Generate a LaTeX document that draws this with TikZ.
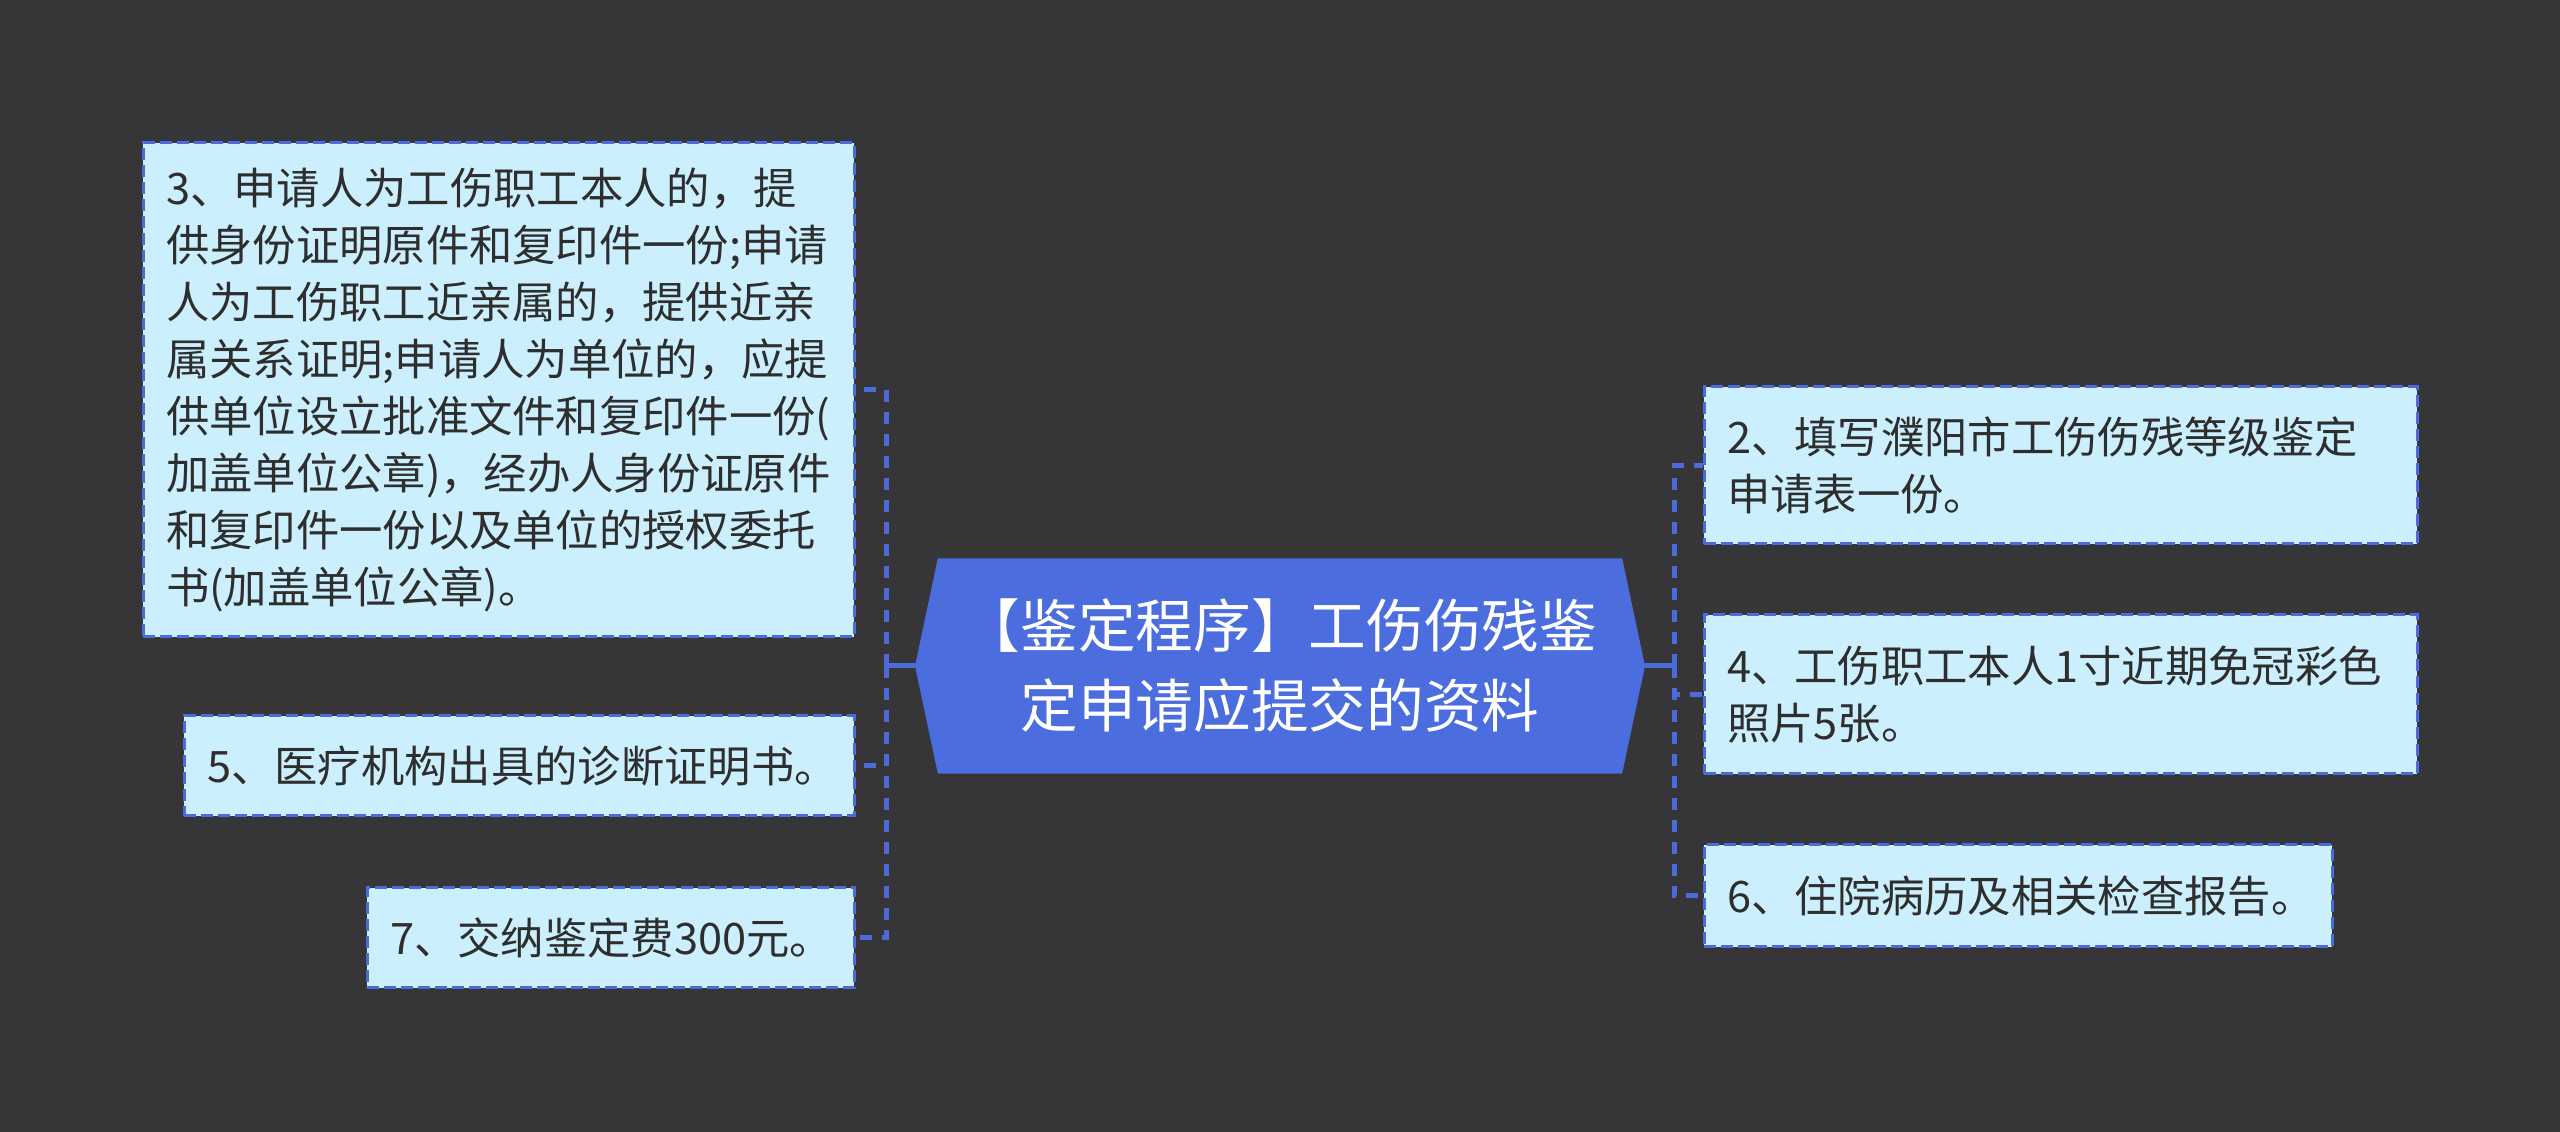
\documentclass[tikz,border=0pt]{standalone}
\usepackage{fontspec}
\setmainfont{Noto Sans CJK SC}
\usetikzlibrary{backgrounds}
\definecolor{bgc}{HTML}{363537}
\definecolor{boxfill}{HTML}{CCEFFD}
\definecolor{boxline}{HTML}{4A6BD9}
\definecolor{cfill}{HTML}{4B6DDE}
\definecolor{txtc}{HTML}{2E2E2E}
\tikzset{
  leaf/.style={draw=boxline, fill=boxfill, line width=0.9pt,
    dash pattern=on 3.6pt off 1.5pt, text=txtc,
    font=\fontsize{13pt}{17.1pt}\selectfont, align=left,
    inner xsep=6.9pt, inner ysep=0pt},
  root/.style={text=white, font=\fontsize{17.3pt}{24pt}\selectfont,
    align=center, minimum width=204.9pt, minimum height=64.2pt, inner sep=0pt},
  trunk/.style={draw=boxline, line width=1.5pt},
  branch/.style={draw=boxline, line width=1.5pt, dash pattern=on 3.6pt off 3pt}
}
\begin{document}
\begin{tikzpicture}[x=0.3pt,y=-0.3pt]
\useasboundingbox (0,0) rectangle (2560,1132);
\begin{pgfonlayer}{background}
\fill[bgc] (0,0) rectangle (2560,1132);
\end{pgfonlayer}

\node[root] (c) at (1280,666) {【鉴定程序】工伤伤残鉴\\定申请应提交的资料};
\coordinate (cl) at (915,666);
\coordinate (cr) at (1645,666);
\begin{pgfonlayer}{background}
\fill[cfill] (cl) -- (c.north west) -- (c.north east) -- (cr) -- (c.south east) -- (c.south west) -- cycle;
\end{pgfonlayer}

\node[leaf, text width=199.5pt, minimum height=148.2pt] (b3) at (498.5,390)
 {3、申请人为工伤职工本人的，提\\供身份证明原件和复印件一份;申请\\人为工伤职工近亲属的，提供近亲\\属关系证明;申请人为单位的，应提\\供单位设立批准文件和复印件一份(\\加盖单位公章)，经办人身份证原件\\和复印件一份以及单位的授权委托\\书(加盖单位公章)。};
\node[leaf, text width=187.2pt, minimum height=30pt] (b5) at (519,766)
 {5、医疗机构出具的诊断证明书。};
\node[leaf, text width=132.3pt, minimum height=30pt] (b7) at (610.5,938)
 {7、交纳鉴定费300元。};
\node[leaf, text width=200.1pt, minimum height=47.1pt] (b2) at (2060.5,465.5)
 {2、填写濮阳市工伤伤残等级鉴定\\申请表一份。};
\node[leaf, text width=200.1pt, minimum height=47.7pt] (b4) at (2060.5,694.5)
 {4、工伤职工本人1寸近期免冠彩色\\照片5张。};
\node[leaf, text width=174.6pt, minimum height=30.6pt] (b6) at (2018,896)
 {6、住院病历及相关检查报告。};

\coordinate (lb) at (886,666);
\coordinate (rb) at (1674,666);
\draw[trunk] (cl) -- (lb);
\draw[trunk] (cr) -- (rb);
\draw[branch] (lb) |- (b3.east);
\draw[branch] (lb) |- (b5.east);
\draw[branch] (lb) |- (b7.east);
\draw[branch] (rb) |- (b2.west);
\draw[branch] (rb) |- (b4.west);
\draw[branch] (rb) |- (b6.west);
\end{tikzpicture}
\end{document}
